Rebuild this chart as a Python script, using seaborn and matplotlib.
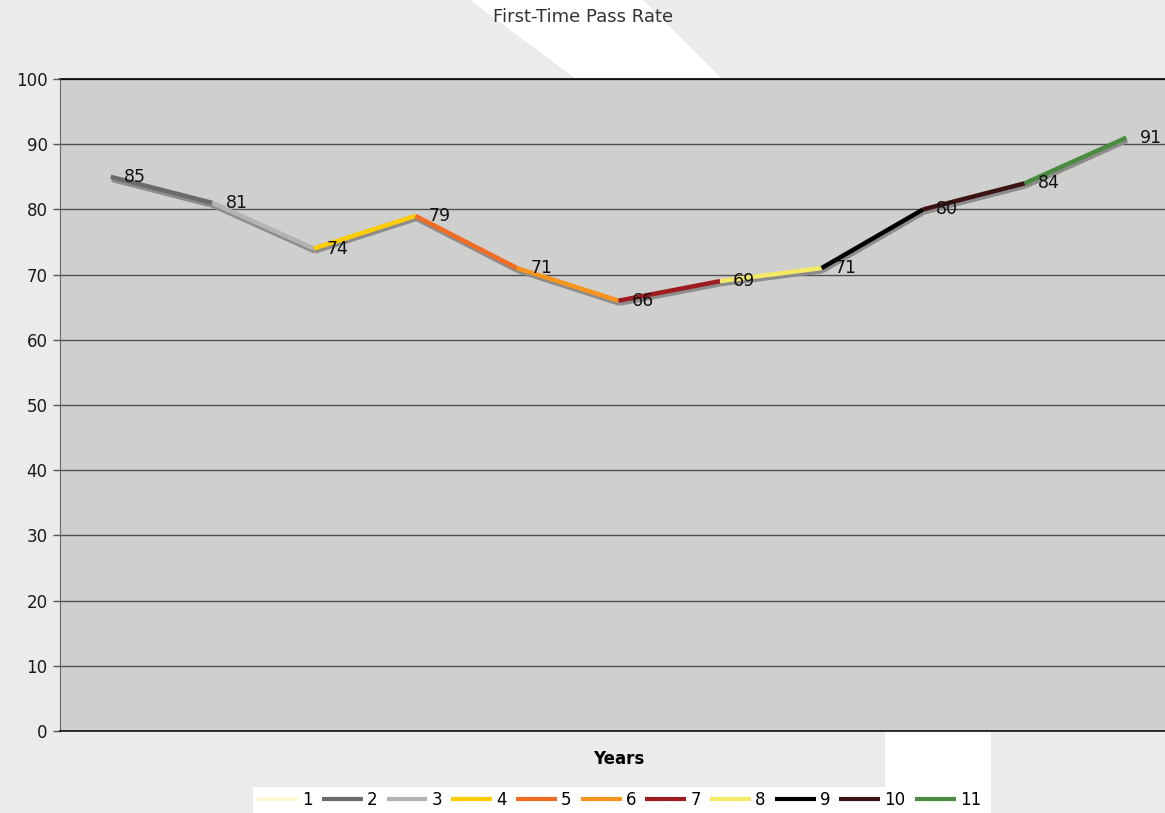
import pandas as pd
import matplotlib
matplotlib.use('Agg')
import matplotlib.pyplot as plt
import matplotlib.transforms as mtransforms
from matplotlib.patches import Polygon
import seaborn as sns

# data
pass_rate = [85, 81, 74, 79, 71, 66, 69, 71, 80, 84, 91]
series_names = ['1', '2', '3', '4', '5', '6', '7', '8', '9', '10', '11']
series_colors = ['#fcf8d4', '#6b6b6b', '#b3b3b3', '#ffcc00', '#f26b22',
                 '#f7941d', '#9e1c20', '#f5ea66', '#000000', '#3a1313', '#4b8b3f']

# each series is one segment: series k joins point k-2 to point k-1 (series 1 is a single point)
rows = []
for k, name in enumerate(series_names):
    idx = [0] if k == 0 else [k - 1, k]
    for i in idx:
        rows.append({'series': name, 'x': i, 'y': pass_rate[i]})
df = pd.DataFrame(rows)

W, H = 1165, 813
fig = plt.figure(figsize=(W / 100, H / 100), dpi=100, facecolor='#ebebeb')
ax = fig.add_axes([60 / W, 82 / H, 1117 / W, 652 / H])
ax.set_facecolor('#cfcfcd')

# white background stripe behind the chart
top = [(470, 0), (643, 0), (722, 79), (760, 140), (620, 140), (576, 79)]
fig.patches.append(Polygon([(x / W, 1 - y / H) for x, y in top], closed=True,
                           facecolor='white', edgecolor='none', zorder=-5,
                           transform=fig.transFigure))
bot = [(885, 700), (991, 700), (991, 813), (885, 813)]
fig.patches.append(Polygon([(x / W, 1 - y / H) for x, y in bot], closed=True,
                           facecolor='white', edgecolor='none', zorder=-5,
                           transform=fig.transFigure))

# grey shadow under the line
sns.lineplot(data=df, x='x', y='y', units='series', estimator=None, color='#8c8c8c',
             linewidth=3.2, legend=False, ax=ax, sort=False)
shift = mtransforms.ScaledTranslation(1 / 100, -3 / 100, fig.dpi_scale_trans)
for ln in ax.lines:
    ln.set_transform(ax.transData + shift)
    ln.set_solid_capstyle('butt')

n_shadow = len(ax.lines)
sns.lineplot(data=df, x='x', y='y', hue='series', hue_order=series_names,
             palette=series_colors, linewidth=3.2, ax=ax, sort=False)
for ln in ax.lines[n_shadow:]:
    ln.set_solid_capstyle('butt')

for i, v in enumerate(pass_rate):
    ax.annotate(str(v), (i, v), xytext=(9.5, 0), textcoords='offset points',
                va='center', ha='left', fontsize=12.5, color='#111111')

ax.set_xlim(-0.5, 10.5)
ax.set_ylim(0, 100)
ax.set_yticks(range(0, 101, 10))
ax.set_xticks([])
ax.yaxis.grid(True, color='#505050', linewidth=1.0)
ax.set_axisbelow(True)
ax.axhline(100, color='#000000', linewidth=1.2, clip_on=False)
ax.tick_params(axis='y', length=5, width=1, color='#555555', labelsize=12, pad=4,
               labelcolor='#1a1a1a')
for s in ['top', 'right']:
    ax.spines[s].set_visible(False)
ax.spines['left'].set_color('#666666')
ax.spines['bottom'].set_color('#000000')
ax.spines['bottom'].set_linewidth(1.1)
ax.set_ylabel('')
ax.set_xlabel('Years', fontsize=12, fontweight='bold', labelpad=14)

fig.text(583 / W, 1 - 17 / H, 'First-Time Pass Rate', ha='center', va='center',
         fontsize=13, color='#333333')

handles, labels = ax.get_legend_handles_labels()
ax.legend_.remove()
for h in handles:
    h.set_linewidth(3)
leg = fig.legend(handles, labels, loc='center', bbox_to_anchor=(619 / W, 13 / H),
                 ncol=11, frameon=True, fancybox=False, facecolor='white', edgecolor='none',
                 framealpha=1, fontsize=12, handlelength=2.45, handletextpad=0.25,
                 columnspacing=0.55, borderpad=0.25)

fig.savefig('out.png', dpi=100, facecolor=fig.get_facecolor())
